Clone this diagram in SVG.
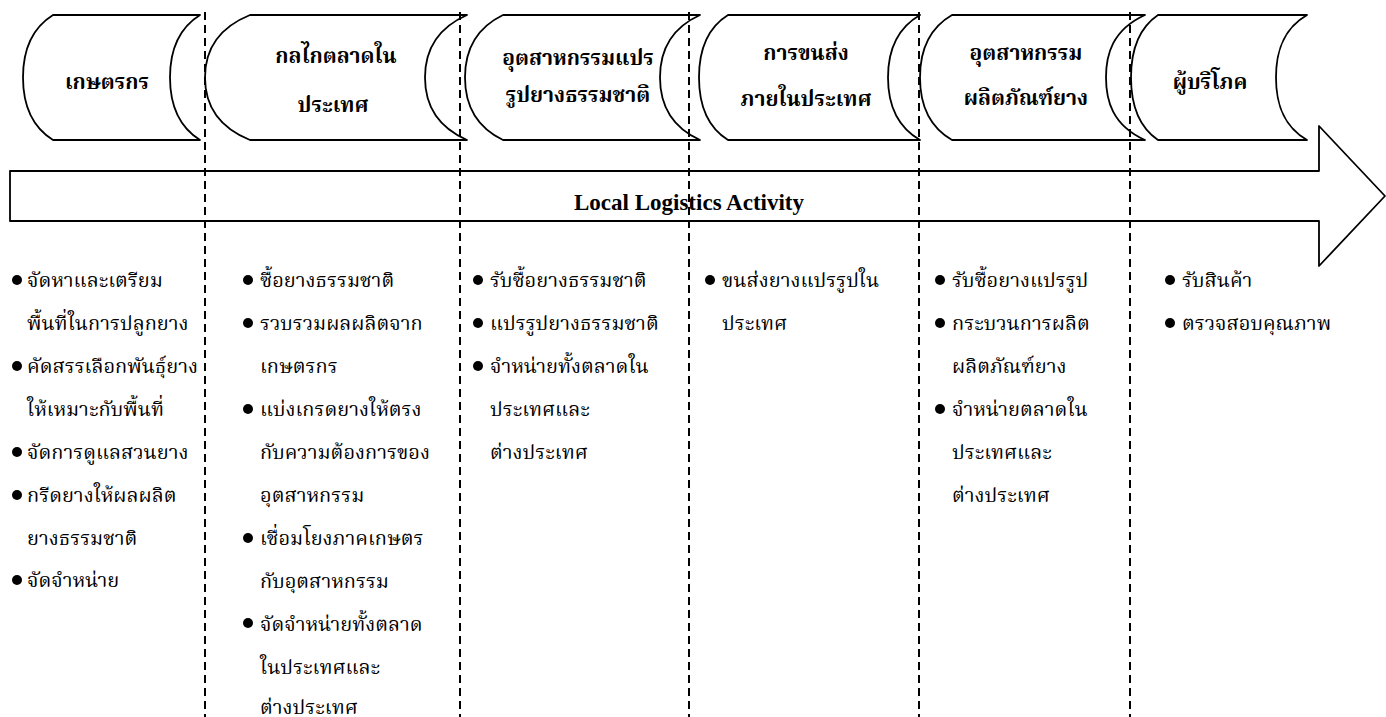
<svg xmlns="http://www.w3.org/2000/svg" width="1386" height="717" viewBox="0 0 1386 717">
<style>
.sh{fill:#fff;stroke:#000;stroke-width:1.8;stroke-linejoin:round}
.dl{stroke:#000;stroke-width:2;stroke-dasharray:8 5;fill:none}
.h{font-family:"Liberation Serif","Noto Serif Thai","Noto Sans Thai",serif;font-weight:bold;font-size:21px;fill:#000;text-anchor:middle}
.t{font-family:"Liberation Serif","Noto Serif Thai","Noto Sans Thai",serif;font-size:20px;fill:#000}
.lbl{font-family:"Liberation Serif",serif;font-weight:bold;font-size:23px;fill:#000;text-anchor:middle}
</style>
<rect width="1386" height="717" fill="#fff"/>
<g id="arrow">
<polygon class="sh" points="10,171 1319,171 1319,126 1385,196 1319,266 1319,221 10,221"/>
<text class="lbl" x="689" y="210">Local Logistics Activity</text>
</g>
<g id="n1">
<path class="sh" d="M53,15 L200,15 C176,30 170,55 170,77.5 C170,100 176,125 200,140 L53,140 C29,125 23,100 23,77.5 C23,55 29,30 53,15 Z"/>
<text class="h" x="107" y="89">เกษตรกร</text>
</g>
<g id="n2">
<path class="sh" d="M250,15 L467,15 C433,30 425,55 425,77.5 C425,100 433,125 467,140 L250,140 C213,125 205,100 205,77.5 C205,55 213,30 250,15 Z"/>
<text class="h" x="336" y="63">กลไกตลาดใน</text>
<text class="h" x="333" y="112">ประเทศ</text>
</g>
<g id="n3">
<path class="sh" d="M503,15 L700,15 C667,30 660,55 660,77.5 C660,100 667,125 700,140 L503,140 C472,125 465,100 465,77.5 C465,55 472,30 503,15 Z"/>
<text class="h" x="578" y="65">อุตสาหกรรมแปร</text>
<text class="h" x="578" y="102">รูปยางธรรมชาติ</text>
</g>
<g id="n4">
<path class="sh" d="M728,15 L920,15 C894,30 888,55 888,77.5 C888,100 894,125 920,140 L728,140 C704,125 699,100 699,77.5 C699,55 704,30 728,15 Z"/>
<text class="h" x="806" y="60">การขนส่ง</text>
<text class="h" x="806" y="106">ภายในประเทศ</text>
</g>
<g id="n5">
<path class="sh" d="M952,15 L1145,15 C1112,30 1106,55 1106,77.5 C1106,100 1112,125 1145,140 L952,140 C926,125 920,100 920,77.5 C920,55 926,30 952,15 Z"/>
<text class="h" x="1026" y="60">อุตสาหกรรม</text>
<text class="h" x="1026" y="105">ผลิตภัณฑ์ยาง</text>
</g>
<g id="n6">
<path class="sh" d="M1158,15 L1307,15 C1281,30 1276,55 1276,77.5 C1276,100 1281,125 1307,140 L1158,140 C1136,125 1131,100 1131,77.5 C1131,55 1136,30 1158,15 Z"/>
<text class="h" x="1210" y="89">ผู้บริโภค</text>
</g>
<g id="connectors">
<line class="dl" x1="205" y1="12" x2="205" y2="717"/>
<line class="dl" x1="460" y1="12" x2="460" y2="717"/>
<line class="dl" x1="689" y1="12" x2="689" y2="717"/>
<line class="dl" x1="919" y1="12" x2="919" y2="717"/>
<line class="dl" x1="1130" y1="12" x2="1130" y2="717"/>
</g>
<g id="list1">
<circle cx="17" cy="280" r="5"/><text class="t" x="27" y="287">จัดหาและเตรียม</text>
<text class="t" x="27" y="330">พื้นที่ในการปลูกยาง</text>
<circle cx="17" cy="366" r="5"/><text class="t" x="27" y="373">คัดสรรเลือกพันธุ์ยาง</text>
<text class="t" x="27" y="416">ให้เหมาะกับพื้นที่</text>
<circle cx="17" cy="452" r="5"/><text class="t" x="27" y="459">จัดการดูแลสวนยาง</text>
<circle cx="17" cy="495" r="5"/><text class="t" x="27" y="502">กรีดยางให้ผลผลิต</text>
<text class="t" x="27" y="545">ยางธรรมชาติ</text>
<circle cx="17" cy="580" r="5"/><text class="t" x="27" y="587">จัดจำหน่าย</text>
</g>
<g id="list2">
<circle cx="248" cy="280" r="5"/><text class="t" x="260" y="287">ซื้อยางธรรมชาติ</text>
<circle cx="248" cy="323" r="5"/><text class="t" x="260" y="330">รวบรวมผลผลิตจาก</text>
<text class="t" x="260" y="373">เกษตรกร</text>
<circle cx="248" cy="409" r="5"/><text class="t" x="260" y="416">แบ่งเกรดยางให้ตรง</text>
<text class="t" x="260" y="459">กับความต้องการของ</text>
<text class="t" x="260" y="502">อุตสาหกรรม</text>
<circle cx="248" cy="538" r="5"/><text class="t" x="260" y="545">เชื่อมโยงภาคเกษตร</text>
<text class="t" x="260" y="588">กับอุตสาหกรรม</text>
<circle cx="248" cy="623" r="5"/><text class="t" x="260" y="631">จัดจำหน่ายทั้งตลาด</text>
<text class="t" x="260" y="674">ในประเทศและ</text>
<text class="t" x="260" y="714">ต่างประเทศ</text>
</g>
<g id="list3">
<circle cx="478" cy="280" r="5"/><text class="t" x="490" y="287">รับซื้อยางธรรมชาติ</text>
<circle cx="478" cy="323" r="5"/><text class="t" x="490" y="330">แปรรูปยางธรรมชาติ</text>
<circle cx="478" cy="366" r="5"/><text class="t" x="490" y="373">จำหน่ายทั้งตลาดใน</text>
<text class="t" x="490" y="416">ประเทศและ</text>
<text class="t" x="490" y="459">ต่างประเทศ</text>
</g>
<g id="list4">
<circle cx="710" cy="280" r="5"/><text class="t" x="722" y="287">ขนส่งยางแปรรูปใน</text>
<text class="t" x="722" y="330">ประเทศ</text>
</g>
<g id="list5">
<circle cx="940" cy="280" r="5"/><text class="t" x="952" y="287">รับซื้อยางแปรรูป</text>
<circle cx="940" cy="323" r="5"/><text class="t" x="952" y="330">กระบวนการผลิต</text>
<text class="t" x="952" y="373">ผลิตภัณฑ์ยาง</text>
<circle cx="940" cy="409" r="5"/><text class="t" x="952" y="416">จำหน่ายตลาดใน</text>
<text class="t" x="952" y="459">ประเทศและ</text>
<text class="t" x="952" y="502">ต่างประเทศ</text>
</g>
<g id="list6">
<circle cx="1170" cy="280" r="5"/><text class="t" x="1182" y="287">รับสินค้า</text>
<circle cx="1170" cy="323" r="5"/><text class="t" x="1182" y="330">ตรวจสอบคุณภาพ</text>
</g>
</svg>
